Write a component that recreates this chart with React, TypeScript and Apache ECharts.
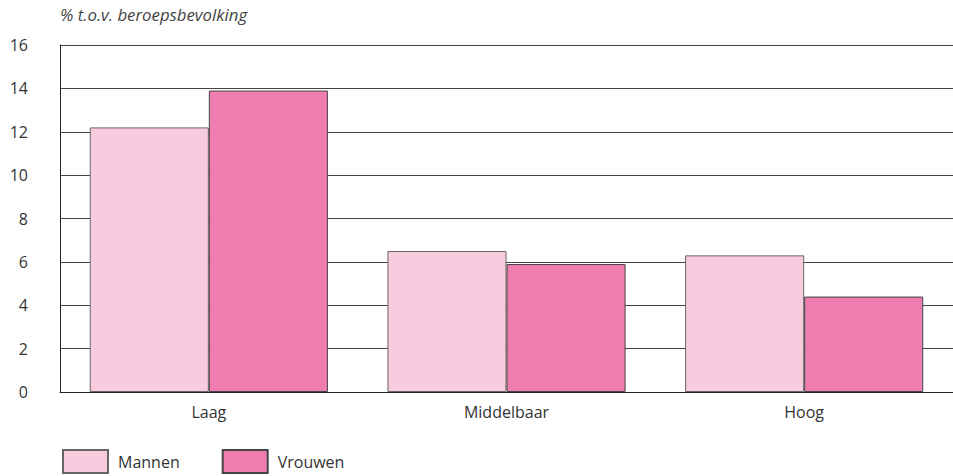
import React, { useEffect, useRef } from "react";
import * as echarts from "echarts";

const categories = ["Laag", "Middelbaar", "Hoog"];
const mannen = [12.2, 6.5, 6.3];
const vrouwen = [13.9, 5.9, 4.4];
const yTicks = { min: 0, max: 16, interval: 2 };
const yTitle = "% t.o.v. beroepsbevolking";

export default function App() {
  const ref = useRef<HTMLDivElement>(null);
  useEffect(() => {
    if (!ref.current) return;
    const chart = echarts.init(ref.current, undefined, { renderer: "svg" });
    const font = "'Open Sans', sans-serif";
    chart.setOption({
      animation: false,
      textStyle: { fontFamily: font },
      grid: { left: 60, right: 0, top: 45, bottom: 84 },
      graphic: [
        {
          type: "text",
          left: 60,
          top: 6,
          style: { text: yTitle, font: `italic 16.8px ${font}`, fill: "#444" },
        },
      ],
      legend: {
        left: 62,
        top: 449,
        padding: 0,
        itemWidth: 45,
        itemHeight: 23,
        itemGap: 42,
        textStyle: { fontSize: 16, color: "#333", fontFamily: font, padding: [0, 0, 0, 5] },
        data: [
          { name: "Mannen", icon: "rect" },
          { name: "Vrouwen", icon: "rect" },
        ],
      },
      xAxis: {
        type: "category",
        data: categories,
        axisLine: { lineStyle: { color: "#222", width: 1 } },
        axisTick: { show: false },
        axisLabel: { fontSize: 16, color: "#333", margin: 12 },
      },
      yAxis: {
        type: "value",
        min: yTicks.min,
        max: yTicks.max,
        interval: yTicks.interval,
        axisLine: { show: true, lineStyle: { color: "#222", width: 1 } },
        axisTick: { show: false },
        axisLabel: { fontSize: 16, color: "#333", margin: 32 },
        splitLine: { lineStyle: { color: "#444", width: 1 } },
      },
      series: [
        {
          name: "Mannen",
          type: "bar",
          data: mannen,
          barGap: "0%",
          barCategoryGap: "20%",
          itemStyle: { color: "#F8CBDF", borderColor: "#666", borderWidth: 1 },
        },
        {
          name: "Vrouwen",
          type: "bar",
          data: vrouwen,
          itemStyle: { color: "#F07DB0", borderColor: "#444", borderWidth: 1 },
        },
      ],
    });
    return () => chart.dispose();
  }, []);
  return (
    <div
      ref={ref}
      style={{ position: "fixed", left: 0, top: 0, width: 953, height: 476, background: "#fff" }}
    />
  );
}
